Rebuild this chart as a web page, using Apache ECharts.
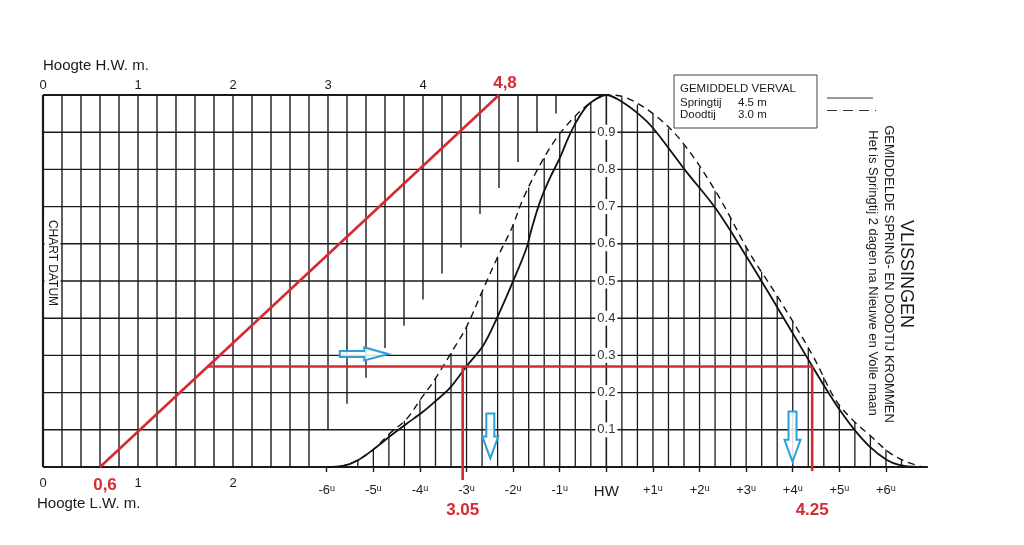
<!DOCTYPE html>
<html><head><meta charset="utf-8">
<script src="https://cdn.jsdelivr.net/npm/echarts@6/dist/echarts.min.js"></script>
<style>html,body{margin:0;padding:0;background:#fff}#c{width:1024px;height:545px}</style>
</head><body><div id="c"></div>
<script>
// ================= DATA =================
// time axis (hours relative to HW)
const hourTicks = [-6,-5,-4,-3,-2,-1,0,1,2,3,4,5,6];
// height scales (m)
const hwHeightTicks = [0,1,2,3,4];
const lwHeightTicks = [0,1,2];
// factor labels on the HW line
const factorTicks = [0.1,0.2,0.3,0.4,0.5,0.6,0.7,0.8,0.9];
// horizontal grid levels (factor)
const gridLevels = [0,0.1,0.2,0.3,0.4,0.5,0.6,0.7,0.8,0.9,1];
// height grid lines (m) and the factor where each one stops (drawn from the top down)
const heightGridM   = [0,0.2,0.4,0.6,0.8,1,1.2,1.4,1.6,1.8,2,2.2,2.4,2.6,2.8,3,3.2,3.4,3.6,3.8,4,4.2,4.4,4.6,4.8,5,5.2,5.4];
const heightGridLow = [0,0,0,0,0,0,0,0,0,0,0,0,0,0,0,0.10,0.17,0.24,0.32,0.38,0.45,0.52,0.59,0.68,0.75,0.82,0.90,0.95];
// time grid lines (minutes relative to HW), drawn from the base up to the curve
const timeGridMin = [-360,-340,-320,-300,-280,-260,-240,-220,-200,-180,-160,-140,-120,-100,-80,-60,-40,-20,0,20,40,60,80,100,120,140,160,180,200,220,240,260,280,300,320,340,360,380];
const baseLineEndHour = 6.9;
// Springtij curve (solid)
const springT = [-6.0,-5.65,-5.32,-4.97,-4.61,-4.28,-3.93,-3.64,-3.36,-3.0,-2.65,-2.36,-2.0,-1.72,-1.60,-1.42,-1.21,-1.0,-0.82,-0.64,-0.42,-0.21,0,0.29,0.72,1.01,1.69,2.37,3.01,3.66,4.30,4.73,5.01,5.33,5.65,6.02,6.30,6.66];
const springF = [0,0.003,0.019,0.05,0.086,0.117,0.149,0.18,0.212,0.271,0.325,0.397,0.50,0.586,0.642,0.714,0.777,0.83,0.884,0.929,0.97,0.99,1.0,0.985,0.946,0.910,0.798,0.691,0.565,0.431,0.296,0.207,0.153,0.099,0.055,0.019,0.005,0];
// Doodtij curve (dashed)
const neapT = [-6.0,-5.65,-5.32,-4.97,-4.65,-4.28,-3.97,-3.72,-3.29,-3.0,-2.65,-2.33,-2.03,-1.78,-1.42,-1.07,-0.71,-0.35,0,0.44,1.08,1.65,2.37,3.08,3.72,4.44,4.92,5.29,5.72,6.08,6.44,6.79];
const neapF = [0,0.003,0.02,0.05,0.09,0.13,0.185,0.228,0.315,0.377,0.476,0.565,0.642,0.723,0.813,0.884,0.938,0.978,1.0,0.992,0.942,0.870,0.736,0.574,0.449,0.297,0.18,0.126,0.078,0.038,0.014,0];
// worked example (red)
const exampleLW = 0.6, exampleHW = 4.8, exampleFactor = 0.27;
const exampleTimes = [-3.083, 4.417];
const exampleTimeLabels = ['3.05', '4.25'];
const exampleLineBottoms = [-0.035, -0.011];
// blue arrows: right [tStart, tEnd, factor]; down [t, fTop, fTip]
const arrowsRight = [[-5.72, -4.68, 0.304]];
const arrowsDown = [[-2.49, 0.144, 0.023], [3.995, 0.149, 0.014]];

// ================= LAYOUT =================
const GL = 43, GT = 95, GW = 912, GH = 372;
const M_MAX = 9.6;
const T_MIN = -12.089, T_MAX = 7.482;
const FONT = '"Liberation Sans", Arial, sans-serif';
const RED = '#d42a32', BLUE = '#2a9fd8', INK = '#1a1a1a';
const HW_X = GL + (0 - T_MIN) / (T_MAX - T_MIN) * GW;
const hToT = h => T_MIN + h / M_MAX * (T_MAX - T_MIN);

function interp(ts, fs, t) {
  if (t < ts[0] || t > ts[ts.length - 1]) return 0;
  for (let i = 0; i < ts.length - 1; i++) {
    if (t >= ts[i] && t <= ts[i + 1]) {
      const r = (t - ts[i]) / (ts[i + 1] - ts[i] || 1);
      return fs[i] + r * (fs[i + 1] - fs[i]);
    }
  }
  return 0;
}
const envelope = t => Math.max(interp(springT, springF, t), interp(neapT, neapF, t));
function fallingCross(f) {
  if (f >= 1) return 0;
  if (f <= 0) return baseLineEndHour;
  for (let i = 0; i < springT.length - 1; i++) {
    if (springT[i] < 0) continue;
    const a = springF[i], b = springF[i + 1];
    if (a >= f && b <= f) return springT[i] + (a - f) / (a - b || 1) * (springT[i + 1] - springT[i]);
  }
  return baseLineEndHour;
}

const lineItem = (p1, p2, style) => ({type: 'line', shape: {x1: p1[0], y1: p1[1], x2: p2[0], y2: p2[1]}, style});

const exampleAtLW = exampleLW + exampleFactor * (exampleHW - exampleLW);
const redSegs = [
  [hToT(exampleAtLW), exampleFactor, exampleTimes[1], exampleFactor],
  [exampleTimes[0], exampleFactor, exampleTimes[0], exampleLineBottoms[0]],
  [exampleTimes[1], exampleFactor, exampleTimes[1], exampleLineBottoms[1]]
];

const option = {
  animation: false,
  backgroundColor: '#fff',
  grid: {left: GL, top: GT, width: GW, height: GH, containLabel: false, outerBoundsMode: 'none'},
  xAxis: [
    { // time axis
      type: 'value', position: 'bottom', min: T_MIN, max: T_MAX,
      axisLine: {show: false, onZero: false}, splitLine: {show: false},
      axisTick: {show: true, customValues: hourTicks, length: 5, lineStyle: {color: INK, width: 1.4}},
      axisLabel: {
        customValues: hourTicks, margin: 17, color: INK, fontSize: 13, fontFamily: FONT,
        formatter: v => v === 0 ? '{hw|HW}' : (v > 0 ? '+' : '') + v + '{u|u}',
        rich: {u: {fontSize: 9, fontFamily: FONT, color: INK, verticalAlign: 'top'},
               hw: {fontSize: 15, fontFamily: FONT, color: INK}}
      }
    },
    { // height at HW (top)
      type: 'value', position: 'top', min: 0, max: M_MAX,
      axisLine: {show: false, onZero: false}, splitLine: {show: false}, axisTick: {show: false},
      axisLabel: {
        customValues: hwHeightTicks.concat([exampleHW]), margin: 3, color: INK, fontSize: 13, fontFamily: FONT,
        formatter: v => v === exampleHW ? '{r|' + String(v).replace('.', ',') + '}' : String(v),
        rich: {r: {color: RED, fontSize: 17, fontWeight: 'bold', fontFamily: FONT, padding: [0, 0, 0, 12]}}
      }
    },
    { // height at LW (bottom)
      type: 'value', position: 'bottom', min: 0, max: M_MAX,
      axisLine: {show: false, onZero: false}, splitLine: {show: false}, axisTick: {show: false},
      axisLabel: {
        customValues: lwHeightTicks.concat([exampleLW]), margin: 10, color: INK, fontSize: 13, fontFamily: FONT,
        formatter: v => v === exampleLW ? '{r|' + String(v).replace('.', ',') + '}' : String(v),
        rich: {r: {color: RED, fontSize: 17, fontWeight: 'bold', fontFamily: FONT, padding: [0, 0, 0, 10]}}
      }
    },
    { // example time readings (red)
      type: 'value', position: 'bottom', min: T_MIN, max: T_MAX,
      axisLine: {show: false, onZero: false}, splitLine: {show: false}, axisTick: {show: false},
      axisLabel: {
        customValues: exampleTimes, margin: 35, color: RED, fontSize: 17, fontWeight: 'bold', fontFamily: FONT,
        formatter: v => {
          let best = 0;
          exampleTimes.forEach((t, i) => { if (Math.abs(t - v) < Math.abs(exampleTimes[best] - v)) best = i; });
          return exampleTimeLabels[best];
        }
      }
    }
  ],
  yAxis: [
    {type: 'value', min: 0, max: 1, show: false, axisLine: {onZero: false}},
    {
      type: 'value', min: 0, max: 1, position: 'left', offset: -(HW_X - GL), z: 10,
      axisLine: {show: false, onZero: false}, axisTick: {show: false}, splitLine: {show: false},
      axisLabel: {
        customValues: factorTicks, margin: 0, align: 'center', color: '#333', fontSize: 13, fontFamily: FONT,
        backgroundColor: '#fff', padding: [1, 2], formatter: v => v.toFixed(1)
      }
    }
  ],
  series: [
    { // height grid (vertical, from top down)
      type: 'custom', xAxisIndex: 1, yAxisIndex: 0, z: 2, silent: true,
      encode: {x: 0, y: 1},
      data: heightGridM.map((h, i) => [h, heightGridLow[i]]),
      renderItem: (params, api) => {
        const h = api.value(0), low = api.value(1);
        return lineItem(api.coord([h, 1]), api.coord([h, low]),
          {stroke: INK, lineWidth: h === 0 ? 2.2 : 1.4});
      }
    },
    { // horizontal levels, from the left edge to the springtij curve
      type: 'custom', xAxisIndex: 0, yAxisIndex: 0, z: 2, silent: true,
      encode: {x: 1, y: 0},
      data: gridLevels.map(f => [f, fallingCross(f)]),
      renderItem: (params, api) => {
        const f = api.value(0), tEnd = api.value(1);
        return lineItem(api.coord([T_MIN, f]), api.coord([tEnd, f]),
          {stroke: INK, lineWidth: (f === 0 || f === 1) ? 1.8 : 1.4});
      }
    },
    { // time grid (vertical, from base up to the curves)
      type: 'custom', xAxisIndex: 0, yAxisIndex: 0, z: 2, silent: true,
      encode: {x: 0, y: 1},
      data: timeGridMin.map(m => [m / 60, m === 0 ? 1 : envelope(m / 60)]),
      renderItem: (params, api) => {
        const t = api.value(0), top = api.value(1);
        return lineItem(api.coord([t, 0]), api.coord([t, top]),
          {stroke: INK, lineWidth: t === 0 ? 1.6 : 1.3});
      }
    },
    {
      name: 'Springtij', type: 'line', xAxisIndex: 0, yAxisIndex: 0, z: 3,
      data: springT.map((t, i) => [t, springF[i]]),
      smooth: 0.35, symbol: 'none', clip: false,
      lineStyle: {color: '#111', width: 1.8}
    },
    {
      name: 'Doodtij', type: 'line', xAxisIndex: 0, yAxisIndex: 0, z: 3,
      data: neapT.map((t, i) => [t, neapF[i]]),
      smooth: 0.35, symbol: 'none', clip: false,
      lineStyle: {color: '#111', width: 1.4, type: [7, 5]}
    },
    { // red diagonal (LW height -> HW height)
      type: 'line', xAxisIndex: 1, yAxisIndex: 0, z: 4,
      data: [[exampleLW, 0], [exampleHW, 1]], symbol: 'none', clip: false,
      lineStyle: {color: RED, width: 2.6}
    },
    { // red reading lines
      type: 'custom', xAxisIndex: 0, yAxisIndex: 0, z: 4, silent: true, clip: false,
      encode: {x: [0, 2], y: [1, 3]},
      data: redSegs,
      renderItem: (params, api) => lineItem(api.coord([api.value(0), api.value(1)]),
        api.coord([api.value(2), api.value(3)]), {stroke: RED, lineWidth: 2.6})
    },
    { // blue arrows (right)
      type: 'custom', xAxisIndex: 0, yAxisIndex: 0, z: 5, silent: true,
      encode: {x: [0, 1], y: 2},
      data: arrowsRight,
      renderItem: (params, api) => {
        const a = api.coord([api.value(0), api.value(2)]), b = api.coord([api.value(1), api.value(2)]);
        const y = a[1], x0 = a[0], x1 = b[0], hl = 24, sh = 3, hh = 6.5;
        return {type: 'polygon', shape: {points: [[x0, y - sh], [x1 - hl, y - sh], [x1 - hl, y - hh], [x1, y],
          [x1 - hl, y + hh], [x1 - hl, y + sh], [x0, y + sh]]},
          style: {fill: 'rgba(255,255,255,0.85)', stroke: BLUE, lineWidth: 2}};
      }
    },
    { // blue arrows (down)
      type: 'custom', xAxisIndex: 0, yAxisIndex: 0, z: 5, silent: true,
      encode: {x: 0, y: [1, 2]},
      data: arrowsDown,
      renderItem: (params, api) => {
        const a = api.coord([api.value(0), api.value(1)]), b = api.coord([api.value(0), api.value(2)]);
        const x = a[0], y0 = a[1], y1 = b[1], hl = 22, sw = 4, hw = 8;
        return {type: 'polygon', shape: {points: [[x - sw, y0], [x + sw, y0], [x + sw, y1 - hl], [x + hw, y1 - hl],
          [x, y1], [x - hw, y1 - hl], [x - sw, y1 - hl]]},
          style: {fill: 'rgba(255,255,255,0.85)', stroke: BLUE, lineWidth: 2}};
      }
    }
  ],
  graphic: [
    {type: 'text', x: 43, y: 66, z: 10, style: {text: 'Hoogte H.W. m.', fontSize: 15, fontFamily: FONT, fill: INK,
      align: 'left', verticalAlign: 'middle', textAlign: 'left', textVerticalAlign: 'middle'}},
    {type: 'text', x: 37, y: 504, z: 10, style: {text: 'Hoogte L.W. m.', fontSize: 15, fontFamily: FONT, fill: INK,
      align: 'left', verticalAlign: 'middle', textAlign: 'left', textVerticalAlign: 'middle'}},
    {type: 'text', x: 52.5, y: 263, z: 10, rotation: -Math.PI / 2, style: {text: 'CHART DATUM', fontSize: 12, fontFamily: FONT,
      fill: INK, backgroundColor: '#fff', padding: [2, 3], align: 'center', verticalAlign: 'middle',
      textAlign: 'center', textVerticalAlign: 'middle'}},
    // legend box
    {type: 'rect', z: 10, shape: {x: 674, y: 75, width: 143, height: 53}, style: {fill: '#fff', stroke: '#444', lineWidth: 1}},
    {type: 'text', x: 680, y: 89, z: 11, style: {text: 'GEMIDDELD VERVAL', fontSize: 11.5, fontFamily: FONT, fill: INK,
      align: 'left', verticalAlign: 'middle', textAlign: 'left', textVerticalAlign: 'middle'}},
    {type: 'text', x: 680, y: 102.5, z: 11, style: {text: 'Springtij', fontSize: 11.5, fontFamily: FONT, fill: INK,
      align: 'left', verticalAlign: 'middle', textAlign: 'left', textVerticalAlign: 'middle'}},
    {type: 'text', x: 738, y: 102.5, z: 11, style: {text: '4.5 m', fontSize: 11.5, fontFamily: FONT, fill: INK,
      align: 'left', verticalAlign: 'middle', textAlign: 'left', textVerticalAlign: 'middle'}},
    {type: 'text', x: 680, y: 115, z: 11, style: {text: 'Doodtij', fontSize: 11.5, fontFamily: FONT, fill: INK,
      align: 'left', verticalAlign: 'middle', textAlign: 'left', textVerticalAlign: 'middle'}},
    {type: 'text', x: 738, y: 115, z: 11, style: {text: '3.0 m', fontSize: 11.5, fontFamily: FONT, fill: INK,
      align: 'left', verticalAlign: 'middle', textAlign: 'left', textVerticalAlign: 'middle'}},
    {type: 'line', z: 10, shape: {x1: 827, y1: 98, x2: 873, y2: 98}, style: {stroke: '#333', lineWidth: 1}},
    {type: 'line', z: 10, shape: {x1: 827, y1: 110.5, x2: 876, y2: 110.5}, style: {stroke: '#333', lineWidth: 1, lineDash: [10, 6]}},
    // rotated titles
    {type: 'text', x: 906, y: 274, z: 10, rotation: -Math.PI / 2, style: {text: 'VLISSINGEN', fontSize: 18, fontFamily: FONT,
      fill: INK, align: 'center', verticalAlign: 'middle', textAlign: 'center', textVerticalAlign: 'middle'}},
    {type: 'text', x: 889, y: 274, z: 10, rotation: -Math.PI / 2, style: {text: 'GEMIDDELDE SPRING- EN DOODTIJ KROMMEN', fontSize: 13,
      fontFamily: FONT, fill: INK, align: 'center', verticalAlign: 'middle', textAlign: 'center', textVerticalAlign: 'middle'}},
    {type: 'text', x: 873, y: 273, z: 10, rotation: -Math.PI / 2, style: {text: 'Het is Springtij 2 dagen na Nieuwe en Volle maan', fontSize: 13,
      fontFamily: FONT, fill: INK, align: 'center', verticalAlign: 'middle', textAlign: 'center', textVerticalAlign: 'middle'}}
  ]
};

const chart = echarts.init(document.getElementById('c'), null, {renderer: 'canvas'});
chart.setOption(option);
</script>
</body></html>
